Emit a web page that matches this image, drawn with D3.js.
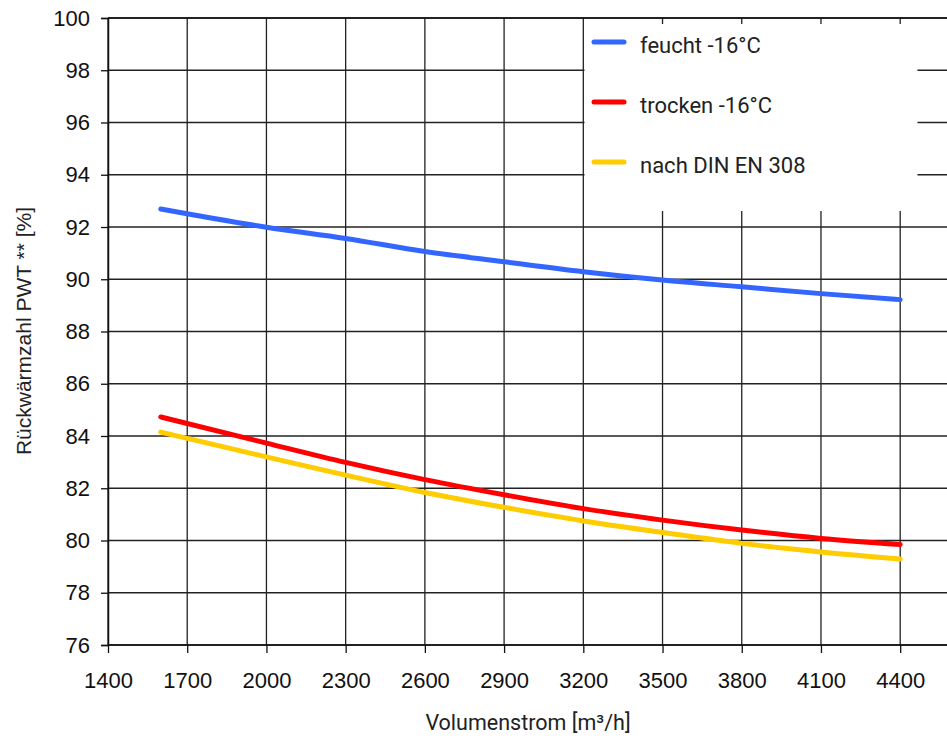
<!DOCTYPE html>
<html><head><meta charset="utf-8">
<script src="https://cdn.jsdelivr.net/npm/d3@7"></script>
<style>body{margin:0;background:#fff}svg{display:block}</style>
</head><body>
<svg id="c" width="947" height="738"></svg>
<script>
const xTicks = [1400,1700,2000,2300,2600,2900,3200,3500,3800,4100,4400];
const yTicks = [76,78,80,82,84,86,88,90,92,94,96,98,100];
const volumes = [1600,2000,2300,2600,2900,3200,3500,3800,4100,4400];
const feucht  = [92.69,91.99,91.56,91.06,90.67,90.29,89.97,89.71,89.45,89.22];
const trocken = [84.73,83.73,82.99,82.33,81.75,81.22,80.78,80.40,80.08,79.85];
const din308  = [84.15,83.20,82.50,81.84,81.27,80.75,80.31,79.89,79.56,79.29];
const seriesNames = ["feucht -16°C","trocken -16°C","nach DIN EN 308"];
const seriesColors = ["#3366ff","#ff0000","#ffcc00"];
const seriesData = [feucht, trocken, din308];

const svg = d3.select("#c");
const x = d3.scaleLinear().domain([1400,4600]).range([108,953]);
const y = d3.scaleLinear().domain([76,100]).range([645,18]);

// grid
const g = svg.append("g");
g.selectAll("line.h").data(yTicks).join("line")
  .attr("x1",108).attr("x2",947).attr("y1",d=>y(d)).attr("y2",d=>y(d))
  .attr("stroke","#222").attr("stroke-width",1.3);
g.selectAll("line.v").data(xTicks).join("line")
  .attr("y1",18).attr("y2",645).attr("x1",d=>x(d)).attr("x2",d=>x(d))
  .attr("stroke","#222").attr("stroke-width",1.3);

// axes
const fontAxis = "'Liberation Sans', Arial, sans-serif";
const yAx = svg.append("g").attr("transform","translate(108,0)")
  .call(d3.axisLeft(y).tickValues(yTicks).tickFormat(d3.format("d")).tickSize(7).tickPadding(11));
const xAx = svg.append("g").attr("transform","translate(0,645)")
  .call(d3.axisBottom(x).tickValues(xTicks).tickFormat(d3.format("d")).tickSize(8).tickPadding(19));
[yAx,xAx].forEach(a=>{
  a.select(".domain").attr("stroke","#111").attr("stroke-width",1.5);
  a.selectAll(".tick line").attr("stroke","#111").attr("stroke-width",1.3);
  a.selectAll("text").attr("font-family",fontAxis).attr("font-size",22).attr("fill","#111");
});
xAx.select(".domain").attr("d","M108,0H947");

// legend box
const lg = svg.append("g");
lg.append("rect").attr("x",584.5).attr("y",24).attr("width",333).attr("height",187).attr("fill","#fff");

// lines
const line = d3.line().x((d,i)=>x(volumes[i])).y(d=>y(d)).curve(d3.curveMonotoneX);
seriesData.forEach((s,k)=>{
  svg.append("path").datum(s).attr("d",line).attr("fill","none")
    .attr("stroke",seriesColors[k]).attr("stroke-width",5).attr("stroke-linecap","round");
});

const legY = [42,102,162];
seriesNames.forEach((n,k)=>{
  lg.append("line").attr("x1",594).attr("x2",624).attr("y1",legY[k]).attr("y2",legY[k])
    .attr("stroke",seriesColors[k]).attr("stroke-width",5).attr("stroke-linecap","round");
  lg.append("text").attr("x",640).attr("y",legY[k]+11).text(n)
    .attr("font-family","Roboto, sans-serif").attr("font-size",22).attr("fill","#222");
});

// top border
svg.append("line").attr("x1",108).attr("x2",947).attr("y1",18).attr("y2",18)
  .attr("stroke","#111").attr("stroke-width",1.5);

// titles
svg.append("text").attr("x",528).attr("y",730).attr("text-anchor","middle")
  .attr("font-family","Roboto, sans-serif").attr("font-size",21.5).attr("fill","#222")
  .text("Volumenstrom [m³/h]");
svg.append("text").attr("transform","translate(31,331) rotate(-90)").attr("text-anchor","middle")
  .attr("font-family",fontAxis).attr("font-size",21).attr("fill","#222")
  .text("Rückwärmzahl PWT ** [%]");
</script>
</body></html>
